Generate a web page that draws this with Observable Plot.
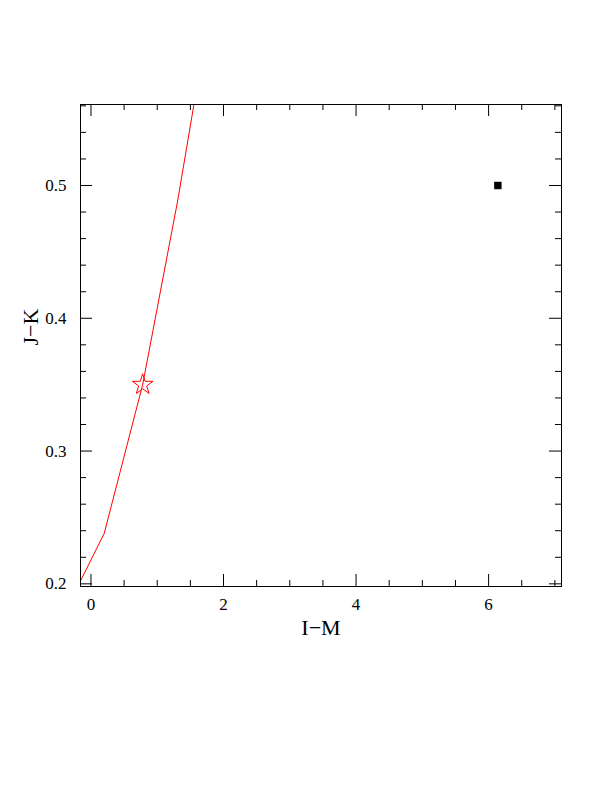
<!DOCTYPE html>
<html><head><meta charset="utf-8">
<script src="https://cdn.jsdelivr.net/npm/d3@7"></script>
<script src="https://cdn.jsdelivr.net/npm/@observablehq/plot@0.6"></script>
<style>body{margin:0;background:#fff}</style>
</head><body><div id="chart"></div>
<script>
// Red track (I-M, J-K)
const trackIM = [-0.16, 0.20, 0.78, 1.31, 1.56];
const trackJK = [0.202, 0.238, 0.350, 0.489, 0.563];
// Star marker
const starIM = [0.78];
const starJK = [0.350];
// Black square
const sqIM = [6.14];
const sqJK = [0.500];
// Ticks
const xMajor = [0, 2, 4, 6];
const xMinor = [0.5, 1, 1.5, 2.5, 3, 3.5, 4.5, 5, 5.5, 6.5, 7];
const yMajor = [0.2, 0.3, 0.4, 0.5];
const yMinor = [0.22, 0.24, 0.26, 0.28, 0.32, 0.34, 0.36, 0.38, 0.42, 0.44, 0.46, 0.48, 0.52, 0.54, 0.56];

const track = trackIM.map((x, i) => ({x, y: trackJK[i]}));
const stars = starIM.map((x, i) => ({x, y: starJK[i]}));
const sqs = sqIM.map((x, i) => ({x, y: sqJK[i]}));

const W = 612, H = 660, mt = 104, mb = 74, ml = 80, mr = 51;
const ph = H - mt - mb, pw = W - ml - mr;
const big = 12, small = 6;
const font = "Liberation Serif";

const chart = Plot.plot({
  width: W, height: H,
  marginTop: mt, marginBottom: mb, marginLeft: ml, marginRight: mr,
  style: {fontFamily: font, fontSize: "17px", color: "black", background: "white"},
  x: {domain: [-0.158, 7.10], label: null},
  y: {domain: [0.198, 0.561], label: null},
  marks: [
    Plot.line(track, {x: "x", y: "y", stroke: "red", strokeWidth: 1, clip: true}),
    Plot.dot(stars, {x: "x", y: "y", symbol: "star", r: 6.5, stroke: "red", fill: "none", strokeWidth: 1}),
    Plot.dot(sqs, {x: "x", y: "y", symbol: "square", r: 4.2, fill: "black", stroke: "none"}),
    // inward ticks bottom/top
    Plot.tickX(xMajor, {x: d => d, insetTop: ph - big, stroke: "black"}),
    Plot.tickX(xMajor, {x: d => d, insetBottom: ph - big, stroke: "black"}),
    Plot.tickX(xMinor, {x: d => d, insetTop: ph - small, stroke: "black"}),
    Plot.tickX(xMinor, {x: d => d, insetBottom: ph - small, stroke: "black"}),
    // inward ticks left/right
    Plot.tickY(yMajor, {y: d => d, insetRight: pw - big, stroke: "black"}),
    Plot.tickY(yMajor, {y: d => d, insetLeft: pw - big, stroke: "black"}),
    Plot.tickY(yMinor, {y: d => d, insetRight: pw - small, stroke: "black"}),
    Plot.tickY(yMinor, {y: d => d, insetLeft: pw - small, stroke: "black"}),
    Plot.axisX(xMajor, {tickSize: 0, tickPadding: 11, tickFormat: d => String(d), fontSize: 17, label: null}),
    Plot.axisY(yMajor, {tickSize: 0, tickPadding: 14, tickFormat: d => d.toFixed(1), fontSize: 17, label: null}),
    Plot.text(["I\u2212M"], {frameAnchor: "bottom", dy: 48, fontSize: 22, fill: "black"}),
    Plot.text(["J\u2212K"], {frameAnchor: "left", dx: -50, rotate: -90, fontSize: 22, fill: "black"}),
    Plot.frame({stroke: "black", strokeWidth: 1})
  ]
});
document.getElementById("chart").append(chart);
</script></body></html>
